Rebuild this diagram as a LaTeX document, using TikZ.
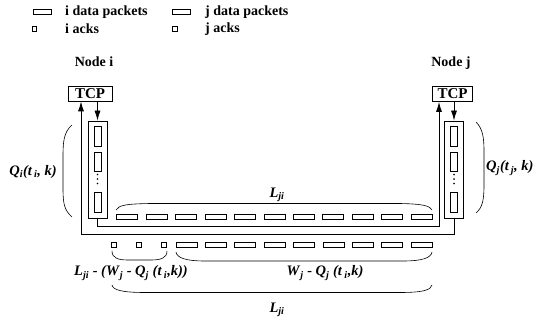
\documentclass[tikz,border=0pt]{standalone}
\usepackage{fontspec}
\setmainfont{Liberation Serif}
\usetikzlibrary{arrows.meta}
\newcommand\bi[1]{\textbf{\textit{#1}}}
\newcommand\bsub[1]{\textsubscript{\textbf{\textit{#1}}}}
\tikzset{
  ln/.style={line width=0.8pt},
  brc/.style={line width=0.6pt},
  arr/.style={ln,-{Latex[length=10pt,width=6pt]}},
  pkt/.style={draw,line width=0.6pt,minimum width=21pt,minimum height=5pt,inner sep=0pt},
  ackbox/.style={draw,line width=0.6pt,minimum width=4.5pt,minimum height=4.5pt,inner sep=0pt},
  vpkt/.style={draw,line width=0.6pt,minimum width=7pt,minimum height=19.5pt,inner sep=0pt},
  chan/.style={draw,ln,minimum width=19pt,minimum height=97pt,inner sep=0pt},
  tcpbox/.style={draw,ln,minimum height=15pt,inner sep=0pt,font=\bfseries\fontsize{15}{16}\selectfont},
  lbl/.style={font=\bfseries\fontsize{14}{16}\selectfont,inner sep=0pt},
  mlbl/.style={font=\fontsize{14.5}{16}\selectfont,inner sep=0pt},
  dot/.style={fill,circle,inner sep=0pt,minimum size=1.8pt}
}
\begin{document}
\begin{tikzpicture}[x=1pt,y=-1pt]
\useasboundingbox (0,0) rectangle (538,320);
% legend
\node[pkt,minimum width=18pt,minimum height=4.5pt] (lgi) at (42,12) {};
\node[lbl,anchor=west] (lgit) at (65,12) {i data packets};
\node[ackbox] (lga) at (34.5,29) {};
\node[lbl,anchor=west] (lgat) at (65,29) {i acks};
\node[pkt,minimum width=18pt,minimum height=4.5pt] (lgj) at (181.5,12) {};
\node[lbl,anchor=west] (lgjt) at (205,12) {j data packets};
\node[ackbox] (lgb) at (175,29) {};
\node[lbl,anchor=west] (lgbt) at (205,29) {j acks};
% nodes
\node[lbl] (ni) at (94,62) {Node i};
\node[lbl] (nj) at (451,63) {Node j};
\node[tcpbox,minimum width=44pt] (tcpi) at (90,93.5) {TCP};
\node[tcpbox,minimum width=40pt] (tcpj) at (452.5,94) {TCP};
\node[chan] (chi) at (97.5,169.5) {};
\node[chan] (chj) at (454,169.5) {};
% queue packets
\foreach \c in {chi,chj}{
  \node[vpkt] (\c p1) at ([yshift=-15.5pt]\c.north) {};
  \node[vpkt] (\c p2) at ([yshift=-41pt]\c.north) {};
  \node[vpkt] (\c p3) at ([yshift=-81.5pt]\c.north) {};
  \node[dot] (\c d1) at ([yshift=-54pt]\c.north) {};
  \node[dot] (\c d2) at ([yshift=-58.5pt]\c.north) {};
  \node[dot] (\c d3) at ([yshift=-63pt]\c.north) {};
}
% arrows / links
\draw[arr] (tcpi.south -| chi.north) -- (chi.north);
\draw[arr] (tcpj.south -| chj.north) -- (chj.north);
\draw[arr] (chi.south) -- ++(0,8.5) -| ([xshift=-13.5pt]tcpj.south);
\draw[arr] (chj.south) -- ++(0,16) -| ([xshift=-9pt]tcpi.south);
% top row of packets
\foreach \k in {0,...,10}{
  \node[pkt] (t\k) at (127.2+29.43*\k,216.8) {};
}
% bottom row
\node[ackbox] (a0) at (114,245) {};
\node[ackbox] (a1) at (139,245) {};
\node[ackbox] (a2) at (164,245) {};
\foreach \k in {0,...,8}{
  \node[pkt] (b\k) at (186.5+29.375*\k,245) {};
}
% braces
\draw[brc] (72,125) .. controls (64,132) and (63,141) .. (63,156) -- (63,188) .. controls (63,203) and (64,210) .. (72,217);
\draw[brc] (476,122) .. controls (483,129) and (484,138) .. (484,152) -- (484,184) .. controls (484,199) and (483,207) .. (476,213);
\draw[brc] (116,210) .. controls (119,205) and (126,204) .. (150,203.5) -- (400,203.5) .. controls (424,204) and (430,206) .. (432,210);
\draw[brc] (112,251) .. controls (112,258) and (118,260) .. (128,260) -- (151,260) .. controls (161,260) and (167,258) .. (167,251);
\draw[brc] (176,252) .. controls (177,258) and (186,261) .. (205,261) -- (403,261) .. controls (422,261) and (431,258) .. (432,252);
\draw[brc] (112,285) .. controls (113,290) and (122,292.5) .. (145,292.5) -- (400,292.5) .. controls (423,292.5) and (431,290) .. (432,285);
% labels
\node[mlbl] (qi) at (33,172) {\bi{Q}\bsub{i}\bi{(t\kern2pt}\bsub{i}\bi{, k)}};
\node[mlbl,anchor=west] (qj) at (486,168) {\bi{Q}\bsub{j}\bi{(t\kern2pt}\bsub{j}\bi{, k)}};
\node[mlbl] (lt) at (277,195) {\bi{L}\bsub{ji}};
\node[mlbl] (lw) at (131,273) {\bi{L}\bsub{ji}\bi{ - (W}\bsub{j}\bi{ - Q}\bsub{j}\bi{ (t\,}\bsub{i}\bi{,k))}};
\node[mlbl] (wq) at (325,273) {\bi{W}\bsub{j}\bi{ - Q}\bsub{j}\bi{ (t\,}\bsub{i}\bi{,k)}};
\node[mlbl] (lb) at (277,310) {\bi{L}\bsub{ji}};
\end{tikzpicture}
\end{document}
